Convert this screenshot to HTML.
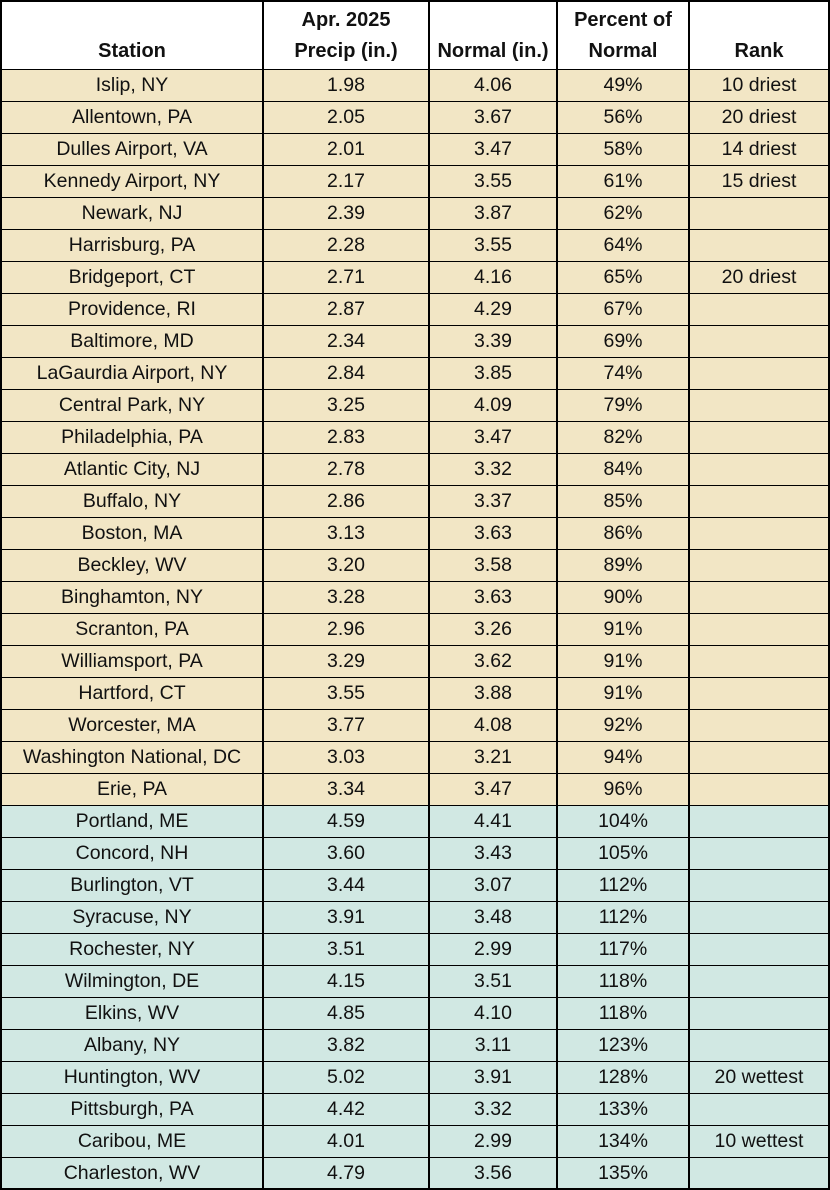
<!DOCTYPE html>
<html><head><meta charset="utf-8"><style>
body{margin:0;background:#fff;}
#t{position:relative;width:830px;height:1190px;font-family:"Liberation Sans Narrow","Liberation Sans",sans-serif;color:#111;}
.c{position:absolute;box-sizing:border-box;display:flex;align-items:center;justify-content:center;font-size:19.5px;border-right:2px solid #000;border-bottom:2px solid #000;}
.h{font-weight:bold;flex-direction:column;justify-content:flex-end;padding-bottom:2px;line-height:31px;font-size:20px;}
</style></head><body>
<div id="t"></div>
<script>
const stations=["Islip, NY","Allentown, PA","Dulles Airport, VA","Kennedy Airport, NY","Newark, NJ","Harrisburg, PA","Bridgeport, CT","Providence, RI","Baltimore, MD","LaGaurdia Airport, NY","Central Park, NY","Philadelphia, PA","Atlantic City, NJ","Buffalo, NY","Boston, MA","Beckley, WV","Binghamton, NY","Scranton, PA","Williamsport, PA","Hartford, CT","Worcester, MA","Washington National, DC","Erie, PA","Portland, ME","Concord, NH","Burlington, VT","Syracuse, NY","Rochester, NY","Wilmington, DE","Elkins, WV","Albany, NY","Huntington, WV","Pittsburgh, PA","Caribou, ME","Charleston, WV"];
const precip=["1.98","2.05","2.01","2.17","2.39","2.28","2.71","2.87","2.34","2.84","3.25","2.83","2.78","2.86","3.13","3.20","3.28","2.96","3.29","3.55","3.77","3.03","3.34","4.59","3.60","3.44","3.91","3.51","4.15","4.85","3.82","5.02","4.42","4.01","4.79"];
const normal=["4.06","3.67","3.47","3.55","3.87","3.55","4.16","4.29","3.39","3.85","4.09","3.47","3.32","3.37","3.63","3.58","3.63","3.26","3.62","3.88","4.08","3.21","3.47","4.41","3.43","3.07","3.48","2.99","3.51","4.10","3.11","3.91","3.32","2.99","3.56"];
const pct=["49%","56%","58%","61%","62%","64%","65%","67%","69%","74%","79%","82%","84%","85%","86%","89%","90%","91%","91%","91%","92%","94%","96%","104%","105%","112%","112%","117%","118%","118%","123%","128%","133%","134%","135%"];
const rank=["10 driest","20 driest","14 driest","15 driest","","","20 driest","","","","","","","","","","","","","","","","","","","","","","","","","20 wettest","","10 wettest",""];
const colX=[0,264,430,558,690,830];
const headers=[["Station"],["Apr. 2025","Precip (in.)"],["Normal (in.)"],["Percent of","Normal"],["Rank"]];
const colNames=["station","precip","normal","percent","rank"];
const t=document.getElementById('t');
const H0=70, rh=(1190-H0)/stations.length;
function cell(x,y,w,h,cls,bg,html){const d=document.createElement('div');d.className=cls;d.style.left=x+'px';d.style.top=y+'px';d.style.width=w+'px';d.style.height=h+'px';if(bg)d.style.background=bg;if(x===0)d.style.borderLeft='2px solid #000';if(y===0)d.style.borderTop='2px solid #000';d.innerHTML=html;t.appendChild(d);return d;}
headers.forEach((hd,i)=>{const d=cell(colX[i],0,colX[i+1]-colX[i],H0+1,'c h',null,hd.map(s=>'<span>'+s+'</span>').join(''));

});
stations.forEach((s,r)=>{const y=Math.round(H0+r*rh);const y2=Math.round(H0+(r+1)*rh);const bg=parseInt(pct[r])<100?'#f2e6c5':'#d1e8e3';
[s,precip[r],normal[r],pct[r],rank[r]].forEach((v,i)=>{const d=cell(colX[i],y,colX[i+1]-colX[i],y2-y+(r===stations.length-1?0:1),'c',bg,v);

});});
</script>
</body></html>
